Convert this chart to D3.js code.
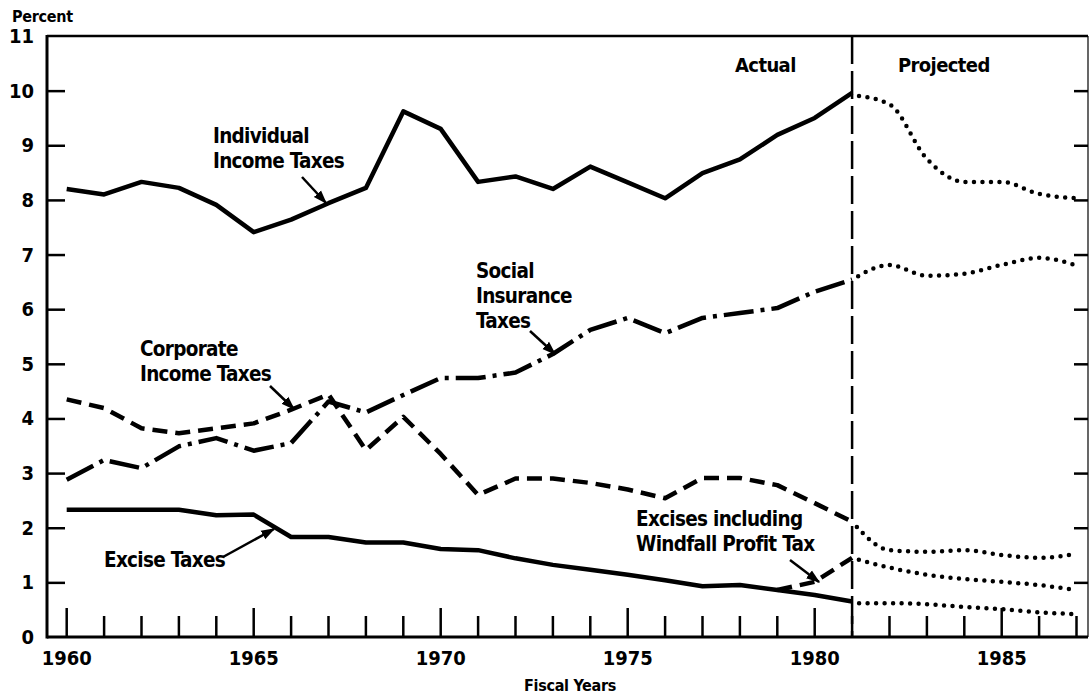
<!DOCTYPE html>
<html>
<head>
<meta charset="utf-8">
<script src="https://cdn.jsdelivr.net/npm/d3@7"></script>
<style>
  body { margin: 0; background: #fff; }
  text { font-family: "DejaVu Sans", sans-serif; font-stretch: condensed; font-weight: bold; fill: #000; }
</style>
</head>
<body>
<div id="chart"></div>
<script>
// data (percent of GNP)
var actualYears = d3.range(1960, 1982);
var projYears = d3.range(1981, 1988);

var individualActual = [8.2, 8.1, 8.33, 8.22, 7.91, 7.41, 7.64, 7.94, 8.22, 9.62, 9.3,
                        8.33, 8.43, 8.2, 8.61, 8.32, 8.03, 8.49, 8.74, 9.19, 9.5, 9.96];
var individualProj = [9.92, 9.75, 8.75, 8.33, 8.33, 8.11, 8.03];

var socialActual = [2.88, 3.24, 3.09, 3.49, 3.64, 3.41, 3.55, 4.31, 4.11, 4.43, 4.74,
                    4.74, 4.84, 5.18, 5.62, 5.84, 5.56, 5.84, 5.93, 6.02, 6.32, 6.54];
var socialProj = [6.54, 6.81, 6.61, 6.65, 6.81, 6.94, 6.8];

var corporateActual = [4.35, 4.19, 3.82, 3.73, 3.82, 3.91, 4.16, 4.44, 3.42, 4.03, 3.35,
                       2.6, 2.9, 2.9, 2.82, 2.7, 2.54, 2.91, 2.91, 2.78, 2.45, 2.11];
var corporateProj = [2.11, 1.59, 1.56, 1.59, 1.5, 1.45, 1.52];

var exciseActual = [2.33, 2.33, 2.33, 2.33, 2.23, 2.24, 1.83, 1.83, 1.73, 1.73, 1.61,
                    1.59, 1.44, 1.32, 1.23, 1.14, 1.04, 0.93, 0.95, 0.86, 0.77, 0.65];
var exciseProj = [0.62, 0.62, 0.6, 0.55, 0.51, 0.45, 0.42];

var windfallYears = [1979, 1980, 1981];
var windfallActual = [0.86, 1.01, 1.45];
var windfallProj = [1.45, 1.27, 1.14, 1.06, 1.01, 0.95, 0.86];

var yTicks = d3.range(0, 12);
var xLabels = [1960, 1965, 1970, 1975, 1980, 1985];

// set the dimensions of the page
var width = 1090, height = 695;
var frame = {left: 47, right: 1088, top: 36, bottom: 637};

var svg = d3.select("#chart")
  .append("svg")
  .attr("width", width)
  .attr("height", height);

svg.append("defs").append("marker")
  .attr("id", "head")
  .attr("viewBox", "0 0 10 10")
  .attr("refX", 9).attr("refY", 5)
  .attr("markerWidth", 14).attr("markerHeight", 14)
  .attr("markerUnits", "userSpaceOnUse")
  .attr("orient", "auto")
  .append("path")
  .attr("d", "M0,1.5 L10,5 L0,8.5 Z")
  .attr("fill", "#000");

// scales
var x = d3.scaleLinear()
  .domain([1960, 1987])
  .range([66.7, 1076.5]);

var y = d3.scaleLinear()
  .domain([0, 11])
  .range([frame.bottom, frame.top]);

// frame
svg.append("line").attr("x1", frame.left).attr("x2", frame.right)
  .attr("y1", frame.top).attr("y2", frame.top)
  .attr("stroke", "#000").attr("stroke-width", 2.5);
svg.append("line").attr("x1", frame.right).attr("x2", frame.right)
  .attr("y1", frame.top).attr("y2", frame.bottom)
  .attr("stroke", "#000").attr("stroke-width", 1.2);

// left axis with inward ticks
var yAxis = svg.append("g")
  .attr("transform", "translate(" + frame.left + ",0)")
  .call(d3.axisRight(y).tickValues(yTicks.slice(1, 11)).tickSize(18).tickFormat(""));
yAxis.select(".domain").remove();
yAxis.selectAll("line").attr("stroke-width", 2.5);

// right ticks
var yAxisR = svg.append("g")
  .attr("transform", "translate(" + frame.right + ",0)")
  .call(d3.axisLeft(y).tickValues(yTicks.slice(1, 11)).tickSize(14).tickFormat(""));
yAxisR.select(".domain").remove();
yAxisR.selectAll("line").attr("stroke-width", 2.5);

svg.append("line").attr("x1", frame.left).attr("x2", frame.left)
  .attr("y1", frame.top - 1).attr("y2", frame.bottom + 1.5)
  .attr("stroke", "#000").attr("stroke-width", 3);

// y tick labels
svg.selectAll(".ylab")
  .data(yTicks)
  .enter()
  .append("text")
  .attr("class", "ylab")
  .attr("x", 34)
  .attr("y", function(d) { return y(d) + 7; })
  .attr("text-anchor", "end")
  .style("font-size", "20px")
  .text(function(d) { return d; });

// x ticks, every year, taller at the fives
svg.selectAll(".xtick")
  .data(d3.range(1960, 1988))
  .enter()
  .append("line")
  .attr("class", "xtick")
  .attr("x1", function(d) { return x(d); })
  .attr("x2", function(d) { return x(d); })
  .attr("y1", frame.bottom)
  .attr("y2", function(d) { return d % 5 === 0 ? frame.bottom - 29 : frame.bottom - 21; })
  .attr("stroke", "#000")
  .attr("stroke-width", 2.5);

svg.append("line").attr("x1", frame.left).attr("x2", frame.right)
  .attr("y1", frame.bottom).attr("y2", frame.bottom)
  .attr("stroke", "#000").attr("stroke-width", 3);

svg.selectAll(".xlab")
  .data(xLabels)
  .enter()
  .append("text")
  .attr("class", "xlab")
  .attr("x", function(d) { return x(d); })
  .attr("y", 665)
  .attr("text-anchor", "middle")
  .style("font-size", "20px")
  .text(function(d) { return d; });

svg.append("text").attr("x", 570).attr("y", 691).attr("text-anchor", "middle")
  .style("font-size", "16px").style("letter-spacing", "-0.3px").text("Fiscal Years");
svg.append("text").attr("x", 12).attr("y", 22)
  .style("font-size", "16px").style("letter-spacing", "-0.3px").text("Percent");

// actual / projected divider
svg.append("line")
  .attr("x1", x(1981)).attr("x2", x(1981))
  .attr("y1", frame.top).attr("y2", frame.bottom)
  .attr("stroke", "#000").attr("stroke-width", 2.5)
  .attr("stroke-dasharray", "28,7");

svg.append("text").attr("x", 735).attr("y", 72).style("font-size", "20px")
  .style("letter-spacing", "-0.6px").text("Actual");
svg.append("text").attr("x", 898).attr("y", 72).style("font-size", "20px")
  .style("letter-spacing", "-0.6px").text("Projected");

// line generators
var line = d3.line()
  .x(function(d) { return x(d[0]); })
  .y(function(d) { return y(d[1]); });

var curved = d3.line()
  .x(function(d) { return x(d[0]); })
  .y(function(d) { return y(d[1]); })
  .curve(d3.curveMonotoneX);

function pairs(years, vals) { return years.map(function(yr, i) { return [yr, vals[i]]; }); }

var actualSeries = [
  {vals: pairs(actualYears, individualActual), dash: null},
  {vals: pairs(actualYears, socialActual), dash: "30,7,4,7"},
  {vals: pairs(actualYears, corporateActual), dash: "15,8"},
  {vals: pairs(actualYears, exciseActual), dash: null},
  {vals: pairs(windfallYears, windfallActual), dash: "15,8"}
];

svg.selectAll(".actual")
  .data(actualSeries)
  .enter()
  .append("path")
  .attr("class", "actual")
  .attr("fill", "none")
  .attr("stroke", "#000")
  .attr("stroke-width", 4.5)
  .attr("stroke-linejoin", "round")
  .attr("stroke-dasharray", function(d) { return d.dash; })
  .attr("d", function(d) { return line(d.vals); });

var projSeries = [individualProj, socialProj, corporateProj, exciseProj, windfallProj];

svg.selectAll(".proj")
  .data(projSeries)
  .enter()
  .append("path")
  .attr("class", "proj")
  .attr("fill", "none")
  .attr("stroke", "#000")
  .attr("stroke-width", 4.5)
  .attr("stroke-linecap", "round")
  .attr("stroke-dasharray", "0,8.5")
  .attr("stroke-dashoffset", -7)
  .attr("d", function(d) { return curved(pairs(projYears, d)); });

// annotations
var notes = [
  {lines: ["Individual", "Income Taxes"], x: 213, y: 143, ax: [302, 177, 326, 203]},
  {lines: ["Social", "Insurance", "Taxes"], x: 476, y: 278, ax: [530, 331, 555, 354]},
  {lines: ["Corporate", "Income Taxes"], x: 140, y: 356, ax: [270, 386, 294, 409]},
  {lines: ["Excise Taxes"], x: 104, y: 567, ax: [223, 557, 274, 529]},
  {lines: ["Excises including", "Windfall Profit Tax"], x: 636, y: 526, ax: [790, 560, 819, 582]}
];

notes.forEach(function(n) {
  var t = svg.append("text").attr("x", n.x).attr("y", n.y)
    .style("font-size", "20.5px").style("letter-spacing", "-0.7px");
  n.lines.forEach(function(s, i) {
    t.append("tspan").attr("x", n.x).attr("dy", i === 0 ? 0 : 25).text(s);
  });
  svg.append("line")
    .attr("x1", n.ax[0]).attr("y1", n.ax[1])
    .attr("x2", n.ax[2]).attr("y2", n.ax[3])
    .attr("stroke", "#000").attr("stroke-width", 2.5)
    .attr("marker-end", "url(#head)");
});
</script>
</body>
</html>
